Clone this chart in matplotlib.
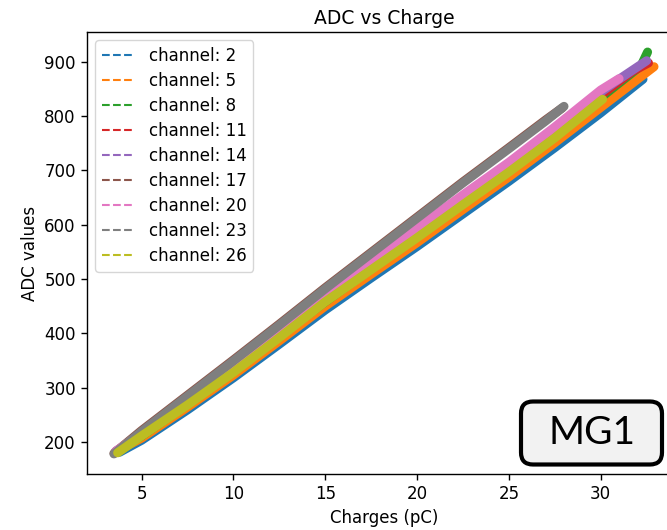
import matplotlib
matplotlib.use("Agg")
import matplotlib.pyplot as plt
from matplotlib.patches import FancyBboxPatch

# charge (pC) / ADC readings per channel
ch2_q = [3.8, 5, 7.5, 10, 12.5, 15, 17.5, 20, 22.5, 25, 27.5, 30, 32.3]
ch2_adc = [181, 203, 259, 318, 380, 443, 502, 560, 620, 680, 742, 806, 868]

ch5_q = [3.6, 5, 7.5, 10, 12.5, 15, 17.5, 20, 22.5, 25, 27.5, 30, 32.9]
ch5_adc = [182, 207, 264, 323, 386, 450, 509, 567, 628, 688, 751, 816, 891]

ch8_q = [3.6, 5, 7.5, 10, 12.5, 15, 17.5, 20, 22.5, 25, 27.5, 30, 32.2, 32.55]
ch8_adc = [182, 211, 270, 331, 395, 458, 519, 580, 642, 704, 767, 834, 893, 918]

ch11_q = [3.6, 5, 7.5, 10, 12.5, 15, 17.5, 20, 22.5, 25, 27.5, 30, 31.7, 32.6]
ch11_adc = [182, 212, 271, 332, 396, 460, 521, 583, 645, 707, 771, 838, 882, 898]

ch14_q = [3.6, 5, 7.5, 10, 12.5, 15, 17.5, 20, 22.5, 25, 27.5, 30, 31.0, 32.5]
ch14_adc = [183, 214, 274, 335, 400, 464, 526, 588, 650, 713, 777, 844, 868, 902]

ch17_q = [3.5, 5, 7.5, 10, 12.5, 15, 17.5, 20, 22.5, 25, 27.0, 27.9]
ch17_adc = [179, 221, 286, 351, 417, 484, 549, 614, 679, 742, 793, 815]

ch20_q = [3.6, 5, 7.5, 10, 12.5, 15, 17.5, 20, 22.5, 25, 27.5, 30, 31.0]
ch20_adc = [183, 216, 277, 339, 404, 471, 532, 594, 655, 715, 780, 848, 869]

ch23_q = [3.5, 5, 7.5, 10, 12.5, 15, 17.5, 20, 22.5, 25, 27.0, 28.0]
ch23_adc = [178, 219, 284, 349, 415, 482, 547, 612, 677, 740, 791, 818]

ch26_q = [3.7, 5, 7.5, 10, 12.5, 15, 17.5, 20, 22.5, 25, 27.5, 30.1]
ch26_adc = [180, 211, 268, 328, 392, 458, 517, 576, 637, 697, 760, 831]

channels = [2, 5, 8, 11, 14, 17, 20, 23, 26]
charges = [ch2_q, ch5_q, ch8_q, ch11_q, ch14_q, ch17_q, ch20_q, ch23_q, ch26_q]
adcs = [ch2_adc, ch5_adc, ch8_adc, ch11_adc, ch14_adc, ch17_adc, ch20_adc, ch23_adc, ch26_adc]

FS = 12

def main():
    fig = plt.figure(figsize=(6.67, 5.3), dpi=100)
    ax = fig.add_axes([0.1304, 0.1057, 0.8906, 0.834])

    for i, ch in enumerate(channels):
        col = "C%d" % i
        # thick band standing in for the dense dots
        ax.plot(charges[i], adcs[i], "-", color=col, lw=6.5,
                solid_capstyle="round", solid_joinstyle="round")
        ax.plot(charges[i], adcs[i], "--", color=col, lw=1.5,
                label="channel: %d" % ch)

    ax.set_title("ADC vs Charge", fontsize=13.5)
    ax.set_xlabel("Charges (pC)", fontsize=FS)
    ax.set_ylabel("ADC values", fontsize=FS)
    ax.tick_params(labelsize=FS, width=1.0, length=4.5)
    for s in ax.spines.values():
        s.set_linewidth(1.0)
    ax.set_yticks([200, 300, 400, 500, 600, 700, 800, 900])
    ax.legend(loc="upper left", fontsize=FS, labelspacing=0.42)

    # MG1 tag pasted on the corner
    box = FancyBboxPatch((5.21, 0.655), 1.41, 0.63,
                         boxstyle="round,pad=0,rounding_size=0.12",
                         transform=fig.dpi_scale_trans, facecolor="#f2f2f2",
                         edgecolor="black", linewidth=3.0, zorder=10)
    fig.patches.append(box)
    fig.text(5.915, 0.965, "MG1", transform=fig.dpi_scale_trans,
             ha="center", va="center", fontsize=28, family="Lato", zorder=11)

    fig.savefig("out.png", dpi=100)


if __name__ == "__main__":
    main()
